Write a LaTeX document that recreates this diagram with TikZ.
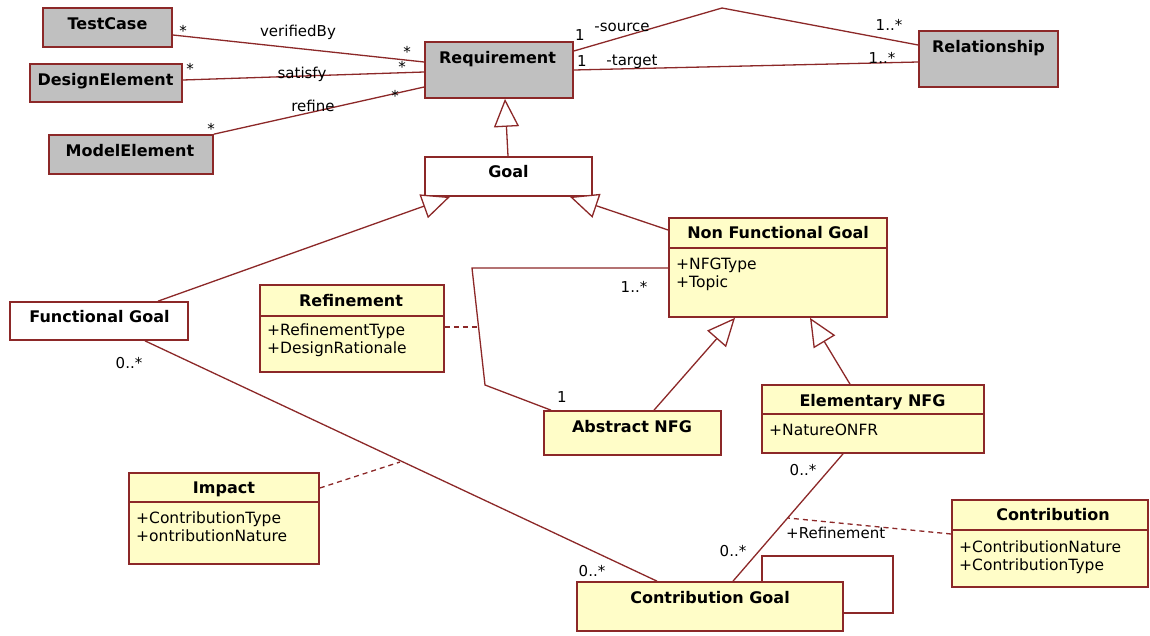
\documentclass[tikz,border=0pt]{standalone}
\usepackage{fontspec}
\setmainfont{DejaVu Sans}
\usetikzlibrary{arrows.meta,calc}
\definecolor{edge}{RGB}{140,40,40}
\definecolor{gfill}{RGB}{192,192,192}
\definecolor{yfill}{RGB}{255,253,200}
\begin{document}
\begin{tikzpicture}[x=1pt,y=-1pt,
 box/.style={draw=edge,line width=1.7pt,inner sep=0pt,rectangle},
 gbox/.style={box,fill=gfill},
 ybox/.style={box,fill=yfill},
 wbox/.style={box,fill=white},
 ttl/.style={font=\fontsize{16}{18}\selectfont\bfseries,inner sep=0pt,anchor=base},
 attr/.style={font=\fontsize{15.5}{18}\selectfont,inner sep=0pt,anchor=base west},
 lbl/.style={font=\fontsize{15}{18}\selectfont,inner sep=0pt,anchor=base},
 conn/.style={draw=edge,line width=1.3pt},
 gen/.style={conn,-{Triangle[length=28pt,width=25pt,fill=white]}},
 dsh/.style={conn,dash pattern=on 5pt off 4pt},
]
\fill[white] (0,0) rectangle (1150,635);
\useasboundingbox (0,0) rectangle (1150,635);

% ---- boxes ----
\node[gbox,minimum width=129pt,minimum height=39pt] (tc) at (107.5,27.5) {};
\node[gbox,minimum width=152pt,minimum height=38pt] (de) at (106,83) {};
\node[gbox,minimum width=164pt,minimum height=39pt] (me) at (131,154.5) {};
\node[gbox,minimum width=148pt,minimum height=56pt] (req) at (499,70) {};
\node[gbox,minimum width=139pt,minimum height=56pt] (rel) at (988.5,59) {};
\node[wbox,minimum width=167pt,minimum height=39pt] (goal) at (508.5,176.5) {};
\node[ybox,minimum width=218pt,minimum height=99pt] (nfg) at (778,267.5) {};
\node[wbox,minimum width=178pt,minimum height=38pt] (fg) at (99,321) {};
\node[ybox,minimum width=184pt,minimum height=87pt] (refn) at (352,328.5) {};
\node[ybox,minimum width=177pt,minimum height=44pt] (anfg) at (632.5,433) {};
\node[ybox,minimum width=222pt,minimum height=68pt] (enfg) at (873,419) {};
\node[ybox,minimum width=196pt,minimum height=87pt] (contr) at (1050,543.5) {};
\node[ybox,minimum width=190pt,minimum height=91pt] (imp) at (224,518.5) {};
\node[ybox,minimum width=266pt,minimum height=49pt] (cg) at (710,606.5) {};

% dividers
\draw[edge,line width=1.3pt] (nfg.west |- 0,248) -- (nfg.east |- 0,248);
\draw[edge,line width=1.3pt] (refn.west |- 0,316) -- (refn.east |- 0,316);
\draw[edge,line width=1.3pt] (enfg.west |- 0,414) -- (enfg.east |- 0,414);
\draw[edge,line width=1.3pt] (contr.west |- 0,530) -- (contr.east |- 0,530);
\draw[edge,line width=1.3pt] (imp.west |- 0,502) -- (imp.east |- 0,502);

% ---- titles ----
\node[ttl] (tct) at (107.5,29.5) {TestCase};
\node[ttl] (det) at (105.5,85) {DesignElement};
\node[ttl] (met) at (130,156) {ModelElement};
\node[ttl] (reqt) at (497.5,63) {Requirement};
\node[ttl] (relt) at (988.5,52) {Relationship};
\node[ttl] (goalt) at (508.5,177) {Goal};
\node[ttl] (nfgt) at (778,238) {Non Functional Goal};
\node[ttl] (fgt) at (99.5,322) {Functional Goal};
\node[ttl] (refnt) at (351,306) {Refinement};
\node[ttl] (anfgt) at (632,432) {Abstract NFG};
\node[ttl] (enfgt) at (872.5,406) {Elementary NFG};
\node[ttl] (contrt) at (1053,520) {Contribution};
\node[ttl] (impt) at (224,493) {Impact};
\node[ttl] (cgt) at (710,603) {Contribution Goal};

% ---- attributes ----
\node[attr] (nfga1) at (676,269) {+NFGType};
\node[attr] (nfga2) at (676,287) {+Topic};
\node[attr] (refa1) at (267,335) {+RefinementType};
\node[attr] (refa2) at (267,353) {+DesignRationale};
\node[attr] (enfga1) at (769,435) {+NatureONFR};
\node[attr] (cona1) at (959,552) {+ContributionNature};
\node[attr] (cona2) at (959,570) {+ContributionType};
\node[attr] (impa1) at (136,523) {+ContributionType};
\node[attr] (impa2) at (136,541) {+ontributionNature};

% ---- free coordinates ----
\coordinate (peak) at (722,8);
\coordinate (a1) at (472,268);
\coordinate (a2) at (485,385);
\coordinate (loop) at (893,556);
\coordinate (r1) at (478.5,327);
\coordinate (i1) at (400,462);
\coordinate (c1) at (788,518);

% ---- associations ----
\draw[conn] (tc.east |- 0,35) -- (req.west |- 0,62);
\draw[conn] (de.east |- 0,80) -- (req.west |- 0,72);
\draw[conn] (me.north east) -- (req.west |- 0,87);
\draw[conn] (req.east |- 0,51) -- (peak) -- (rel.west |- 0,45);
\draw[conn] (req.east |- 0,70) -- (rel.west |- 0,62);
\draw[conn] (nfg.west |- 0,268) -- (a1) -- (a2) -- (anfg.north -| 551,0);
\draw[conn] (fg.south -| 145,0) -- (cg.north -| 657,0);
\draw[conn] (enfg.south -| 843,0) -- (cg.north -| 733,0);
\draw[conn] (cg.north -| 762,0) |- (loop) |- (cg.east |- 0,613);

% ---- generalizations ----
\draw[gen] (goal.north -| 508,0) -- (req.south -| 505,0);
\draw[gen] (fg.north -| 158,0) -- (goal.south -| 450,0);
\draw[gen] (nfg.west |- 0,230) -- (goal.south -| 570,0);
\draw[gen] (anfg.north -| 654,0) -- (nfg.south -| 735,0);
\draw[gen] (enfg.north -| 850,0) -- (nfg.south -| 810,0);

% ---- association classes ----
\draw[dsh] (refn.east |- 0,327) -- (r1);
\draw[dsh] (imp.east |- 0,488) -- (i1);
\draw[dsh] (contr.west |- 0,534) -- (c1);

% ---- labels ----
\node[lbl] (m1) at (183,36) {*};
\node[lbl] (l1) at (298,36) {verifiedBy};
\node[lbl] (m2) at (407,57) {*};
\node[lbl] (m3) at (190,74.5) {*};
\node[lbl] (l2) at (302,78) {satisfy};
\node[lbl] (m4) at (402,72.5) {*};
\node[lbl] (m5) at (211,134.5) {*};
\node[lbl] (l3) at (313,111.5) {refine};
\node[lbl] (m6) at (395,101) {*};
\node[lbl] (m7) at (580,40) {1};
\node[lbl] (l4) at (622,31.5) {-source};
\node[lbl] (m8) at (889,30.5) {1..*};
\node[lbl] (m9) at (582,66) {1};
\node[lbl] (l5) at (632,65.5) {-target};
\node[lbl] (m10) at (882,63) {1..*};
\node[lbl] (m11) at (634,292) {1..*};
\node[lbl] (m12) at (562,402) {1};
\node[lbl] (m13) at (129,368) {0..*};
\node[lbl] (m14) at (592,576) {0..*};
\node[lbl] (m15) at (733,556) {0..*};
\node[lbl] (m16) at (803,475) {0..*};
\node[lbl,anchor=base west] (l6) at (786,538) {+Refinement};
\end{tikzpicture}
\end{document}
